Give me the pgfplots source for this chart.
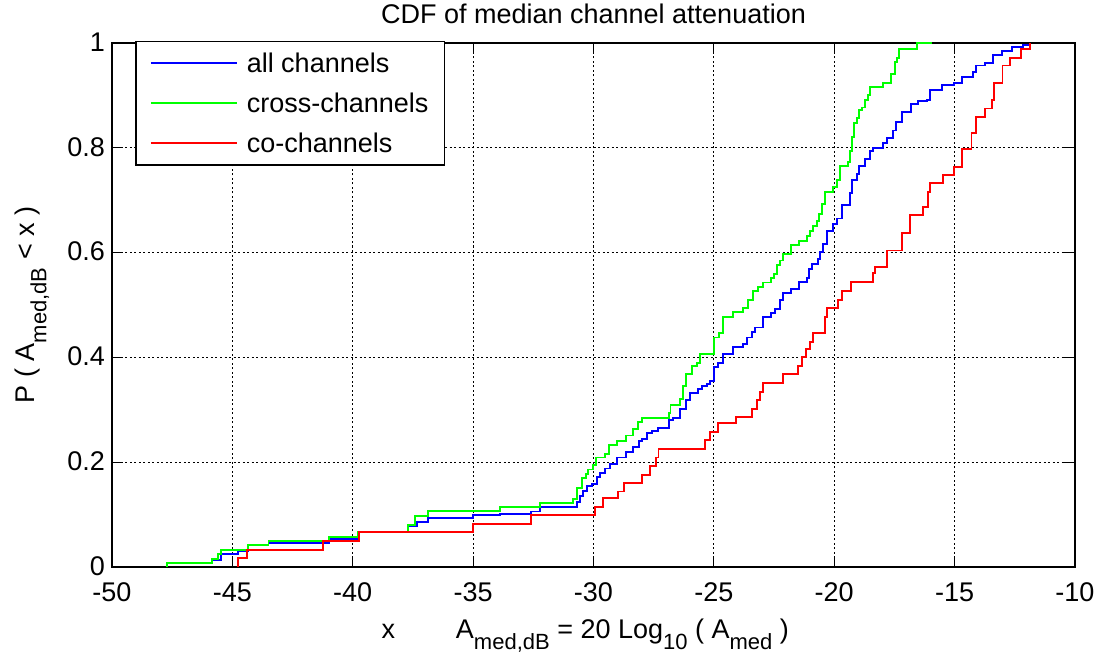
\documentclass[border=0pt]{standalone}
\usepackage{pgfplots}
\pgfplotsset{compat=1.18}
\usepackage{fontspec}
\setmainfont{Liberation Sans}
\newcommand{\fs}{\fontsize{27}{31}\selectfont}
\newcommand{\sub}[1]{\raisebox{-0.42em}{\fontsize{22}{22}\selectfont #1}}
\begin{document}
\begin{tikzpicture}
\path[use as bounding box] (-112pt,-92pt) rectangle (993pt,567pt);
\begin{axis}[
  at={(0pt,0pt)}, anchor=south west,
  scale only axis, width=963pt, height=524pt,
  xmin=-50, xmax=-10, ymin=0, ymax=1,
  xtick={-50,-45,-40,-35,-30,-25,-20,-15,-10},
  xticklabels={-50,-45,-40,-35,-30,-25,-20,-15,-10},
  ytick={0,0.2,0.4,0.6,0.8,1},
  yticklabels={0,0.2,0.4,0.6,0.8,1},
  tick label style={font=\fs},
  xticklabel style={anchor=base, inner sep=0pt, yshift=-34pt},
  yticklabel style={anchor=east, inner sep=0pt, xshift=-7pt, yshift=1pt},
  tick align=inside,
  major tick length=11pt,
  tick style={black, line width=1pt},
  axis line style={black, line width=1.8pt},
  grid=major,
  grid style={black, line width=0.9pt, dash pattern=on 2pt off 2.5pt},
  title={CDF of median channel attenuation},
  title style={font=\fs, at={(axis description cs:0.5,1.0261)}, anchor=base},
  xlabel={x\hspace{2.25em}A\sub{med,dB} = 20 Log\sub{10} ( A\sub{med} )},
  xlabel style={font=\fs, at={(axis description cs:0.4915,-0.1355)}, anchor=base},
  ylabel={P ( A\sub{med,dB} < x )},
  ylabel style={font=\fs, at={(axis description cs:-0.0800,0.5)}, anchor=base},
  legend style={at={(axis description cs:0.0239,1.004)}, anchor=north west,
    font=\fs, draw=black, line width=1.5pt, fill=white,
    inner xsep=14pt, inner ysep=9pt, row sep=15pt,
    /tikz/every odd column/.append style={column sep=7pt},
    cells={anchor=west}},
  legend image code/.code={\draw[#1, line width=2pt] (0pt,0pt) -- (86pt,0pt);},
  legend cell align=left,
  clip=false,
]
\addplot[blue, const plot, line width=1.9pt] coordinates {
(-47.70,0) (-47.70,0.008) (-45.86,0.013) (-45.49,0.025) (-44.75,0.031) (-44.36,0.042) (-43.50,0.046) (-41.00,0.053) (-39.77,0.066) (-37.69,0.078) (-37.34,0.086) (-36.86,0.094) (-35.02,0.099) (-33.89,0.102) (-32.61,0.106) (-32.24,0.114) (-30.70,0.124) (-30.56,0.136) (-30.42,0.145) (-30.26,0.154) (-30.07,0.159) (-29.87,0.172) (-29.73,0.179) (-29.52,0.188) (-29.31,0.197) (-29.01,0.209) (-28.65,0.219) (-28.35,0.229) (-28.10,0.240) (-28.00,0.245) (-27.79,0.255) (-27.58,0.260) (-27.31,0.266) (-26.85,0.280) (-26.71,0.285) (-26.41,0.302) (-26.16,0.319) (-25.99,0.332) (-25.65,0.340) (-25.51,0.345) (-25.30,0.350) (-25.16,0.355) (-24.98,0.382) (-24.82,0.390) (-24.61,0.407) (-24.19,0.420) (-23.80,0.426) (-23.64,0.438) (-23.43,0.449) (-23.29,0.457) (-22.95,0.477) (-22.64,0.485) (-22.46,0.493) (-22.25,0.509) (-22.14,0.523) (-21.81,0.531) (-21.45,0.544) (-21.15,0.552) (-21.04,0.569) (-20.94,0.578) (-20.66,0.587) (-20.59,0.601) (-20.48,0.617) (-20.29,0.641) (-20.07,0.655) (-19.87,0.665) (-19.69,0.690) (-19.35,0.713) (-19.28,0.738) (-19.07,0.750) (-18.96,0.765) (-18.72,0.779) (-18.51,0.794) (-18.40,0.800) (-17.99,0.810) (-17.80,0.818) (-17.57,0.833) (-17.44,0.849) (-17.20,0.868) (-16.82,0.884) (-16.51,0.889) (-16.13,0.891) (-16.02,0.911) (-15.54,0.920) (-15.03,0.924) (-14.71,0.935) (-14.25,0.945) (-14.11,0.957) (-13.74,0.962) (-13.39,0.977) (-13.04,0.985) (-12.63,0.992) (-12.15,0.997) (-11.87,1.000)
};
\addlegendentry{all channels}
\addplot[green, const plot, line width=1.9pt] coordinates {
(-47.70,0) (-47.70,0.008) (-45.86,0.015) (-45.58,0.024) (-45.49,0.033) (-44.36,0.042) (-43.50,0.049) (-41.00,0.057) (-39.77,0.066) (-37.69,0.080) (-37.41,0.098) (-36.86,0.107) (-33.89,0.114) (-32.24,0.122) (-30.86,0.130) (-30.67,0.151) (-30.49,0.169) (-30.31,0.178) (-30.22,0.186) (-30.03,0.194) (-29.90,0.209) (-29.52,0.215) (-29.34,0.232) (-29.01,0.240) (-28.65,0.251) (-28.35,0.264) (-28.14,0.277) (-28.00,0.285) (-26.85,0.294) (-26.80,0.310) (-26.41,0.321) (-26.30,0.345) (-26.16,0.368) (-25.92,0.384) (-25.71,0.390) (-25.58,0.407) (-24.98,0.438) (-24.77,0.447) (-24.61,0.477) (-24.19,0.486) (-23.80,0.494) (-23.57,0.509) (-23.39,0.527) (-23.15,0.535) (-22.95,0.543) (-22.64,0.552) (-22.50,0.560) (-22.36,0.576) (-22.25,0.585) (-22.14,0.597) (-21.81,0.614) (-21.45,0.622) (-21.12,0.631) (-21.00,0.642) (-20.87,0.650) (-20.73,0.661) (-20.62,0.674) (-20.52,0.693) (-20.38,0.716) (-20.04,0.726) (-19.90,0.739) (-19.76,0.765) (-19.42,0.773) (-19.35,0.794) (-19.28,0.820) (-19.18,0.847) (-19.07,0.857) (-18.96,0.872) (-18.86,0.877) (-18.72,0.892) (-18.58,0.900) (-18.51,0.916) (-17.99,0.924) (-17.66,0.940) (-17.48,0.964) (-17.40,0.972) (-17.30,0.989) (-16.58,1.000) (-15.95,1.000)
};
\addlegendentry{cross-channels}
\addplot[red, const plot, line width=1.9pt] coordinates {
(-44.75,0) (-44.75,0.017) (-44.40,0.033) (-41.22,0.049) (-39.73,0.066) (-35.02,0.082) (-32.61,0.099) (-29.94,0.115) (-29.62,0.132) (-28.97,0.144) (-28.72,0.160) (-28.00,0.176) (-27.65,0.192) (-27.40,0.209) (-27.30,0.225) (-25.37,0.242) (-25.17,0.258) (-24.82,0.275) (-24.08,0.286) (-23.40,0.302) (-23.22,0.319) (-23.08,0.334) (-22.97,0.351) (-22.14,0.369) (-21.49,0.383) (-21.35,0.400) (-21.17,0.416) (-21.00,0.429) (-20.90,0.447) (-20.38,0.477) (-20.31,0.495) (-19.84,0.510) (-19.69,0.527) (-19.32,0.544) (-18.40,0.561) (-18.31,0.573) (-17.82,0.604) (-17.20,0.637) (-16.85,0.671) (-16.30,0.687) (-16.12,0.716) (-16.03,0.732) (-15.50,0.748) (-15.03,0.763) (-14.71,0.798) (-14.30,0.828) (-14.11,0.858) (-13.74,0.875) (-13.46,0.891) (-13.37,0.924) (-13.01,0.957) (-12.70,0.972) (-12.26,0.989) (-11.87,1.000)
};
\addlegendentry{co-channels}
\end{axis}
\end{tikzpicture}
\end{document}
